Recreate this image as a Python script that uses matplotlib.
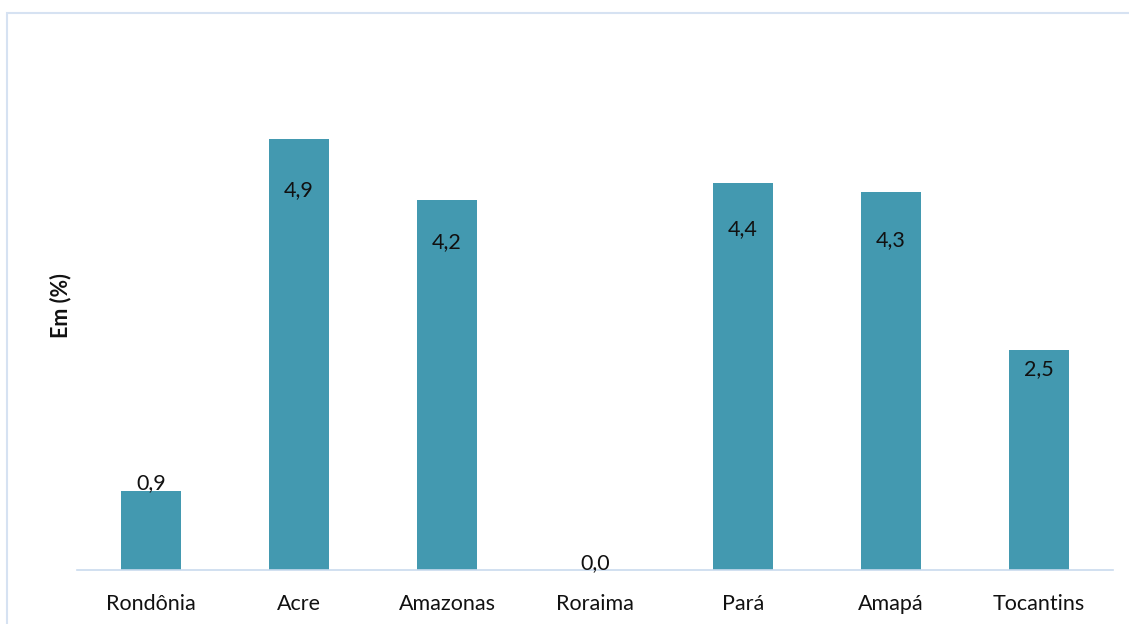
import matplotlib.pyplot as plt
from matplotlib.patches import Rectangle

estados = ["Rondônia", "Acre", "Amazonas", "Roraima", "Pará", "Amapá", "Tocantins"]
valores = [0.9, 4.9, 4.2, 0.0, 4.4, 4.3, 2.5]
# deslocamento vertical dos rótulos (pontos; 0 ou menos = acima do topo da barra)
desloc_rotulo = [0, 37, 30, 0, 33, 35, 14]

COR_BARRA = "#4399b0"
COR_EIXO = "#c9daee"
COR_BORDA = "#d6e2f2"
COR_TEXTO = "#111111"

plt.rcParams["font.family"] = ["Lato", "DejaVu Sans"]

W, H = 1129, 624
fig = plt.figure(figsize=(W / 100, H / 100), dpi=100)
ax = fig.add_axes([77 / W, 1 - 570 / H, (1113 - 77) / W, (570 - 42) / H])

x = list(range(len(estados)))
ax.bar(x, valores, width=0.405, color=COR_BARRA, zorder=2)

for xi, v, d in zip(x, valores, desloc_rotulo):
    rot = f"{v:.1f}".replace(".", ",")
    if d <= 0:
        ax.annotate(rot, (xi, v), xytext=(0, -2), textcoords="offset points",
                    ha="center", va="bottom", fontsize=15.5, color=COR_TEXTO)
    else:
        ax.annotate(rot, (xi, v), xytext=(0, -d), textcoords="offset points",
                    ha="center", va="center", fontsize=15.5, color=COR_TEXTO)

ax.set_xlim(-0.5, len(estados) - 0.5)
ax.set_ylim(0, 6)
ax.set_xticks(x)
ax.set_xticklabels(estados, fontsize=15.5, color=COR_TEXTO)
ax.tick_params(axis="x", length=0, pad=17)
ax.set_yticks([])
for lado in ("top", "right", "left"):
    ax.spines[lado].set_visible(False)
ax.spines["bottom"].set_color(COR_EIXO)
ax.spines["bottom"].set_linewidth(1.2)

ax.set_ylabel("Em (%)", fontsize=15.5, fontweight="bold", color=COR_TEXTO, labelpad=4)

# moldura externa do gráfico
fig.patches.append(Rectangle((7 / W, -0.1), 1.2, 1 - 13 / H + 0.1,
                             transform=fig.transFigure, fill=False,
                             edgecolor=COR_BORDA, linewidth=1.5, clip_on=False))

fig.savefig("out.png", dpi=100)
